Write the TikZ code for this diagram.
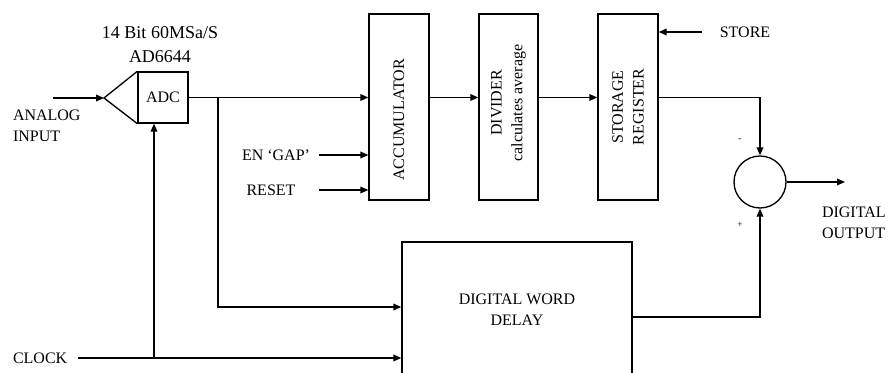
\documentclass[tikz,border=0pt]{standalone}
\usepackage{fontspec}
\setmainfont{Liberation Serif}
\usetikzlibrary{arrows.meta, positioning}

\begin{document}
\begin{tikzpicture}[x=0.75pt, y=-0.75pt, line width=1pt,
    >={Triangle[length=6pt, width=5pt]},
    blk/.style={draw, inner sep=0pt, minimum width=45pt, minimum height=139.5pt},
    lbl/.style={font=\fontsize{12}{15.5}\selectfont, inner sep=1pt},
    vlbl/.style={lbl, rotate=90, align=center}]
  \clip (0,0) rectangle (889,373);

  % ADC with input amplifier
  \node[draw, inner sep=0pt, minimum width=37.5pt, minimum height=38.25pt] (adc) at (163,97.5) {};
  \node[lbl] (adctxt) at (adc.center) {ADC};
  \coordinate (tip) at (104,98);
  \draw (adc.north west) -- (tip) -- (adc.south west);
  \node[lbl, font=\fontsize{13.5}{14}\selectfont] (bits) at (160,33) {14 Bit 60MSa/S};
  \node[lbl, font=\fontsize{13.5}{14}\selectfont] (part) at (160,57) {AD6644};

  % Analog input
  \coordinate (ain) at (53,98);
  \draw[->] (ain) -- (tip);
  \node[lbl, anchor=west, align=left] (aintxt) at (11,126) {ANALOG\\INPUT};

  % Processing chain
  \node[blk] (acc) at (399,107) {};
  \node[vlbl] (acctxt) at (399,120) {ACCUMULATOR};
  \node[blk, minimum width=44.25pt] (div) at (508.5,107) {};
  \node[vlbl] (divtxt) at (508.5,103) {DIVIDER\\calculates average};
  \node[blk] (reg) at (628,107) {};
  \node[vlbl] (regtxt) at (reg.center) {STORAGE\\REGISTER};

  \draw[->] (adc.east) -- (adc.east -| acc.west);
  \draw[->] (acc.east |- adc.east) -- (adc.east -| div.west);
  \draw[->] (div.east |- adc.east) -- (adc.east -| reg.west);

  % Control inputs
  \node[lbl] (en) at (276,155) {EN `GAP'};
  \coordinate (enin) at (319,155);
  \draw[->] (enin) -- (enin -| acc.west);
  \node[lbl] (rst) at (271,190) {RESET};
  \coordinate (rstin) at (319,190);
  \draw[->] (rstin) -- (rstin -| acc.west);
  \node[lbl] (st) at (745,32) {STORE};
  \coordinate (stin) at (702,32);
  \draw[->] (stin) -- (stin -| reg.east);

  % Delay path
  \node[draw, inner sep=0pt, minimum width=172.5pt, minimum height=118.5pt] (dly) at (517,321) {};
  \node[lbl, align=center] (dlytxt) at (517,310) {DIGITAL WORD\\DELAY};
  \coordinate (br) at (218,98);
  \draw[->] (br) |- (dly.west |- 0,307);

  % Clock
  \coordinate (clk) at (78,358);
  \node[lbl, anchor=west] (clktxt) at (11,358) {CLOCK};
  \draw[->] (clk) -- (clk -| dly.west);
  \coordinate (ck) at (154,358);
  \draw[->] (ck) -- (ck |- adc.south);

  % Subtractor
  \node[draw, circle, inner sep=0pt, minimum size=39pt] (sum) at (760,182) {};
  \draw[->] (reg.east |- adc.east) -| (sum.north);
  \draw[->] (dly.east |- 0,317) -| (sum.south);
  \coordinate (dout) at (845,182);
  \draw[->] (sum.east) -- (dout);
  \node[font=\scriptsize] (minus) at (740,140) {-};
  \node[font=\scriptsize] (plus) at (740,225) {+};
  \node[lbl, anchor=west, align=left] (douttxt) at (820,223) {DIGITAL\\OUTPUT};
\end{tikzpicture}
\end{document}
